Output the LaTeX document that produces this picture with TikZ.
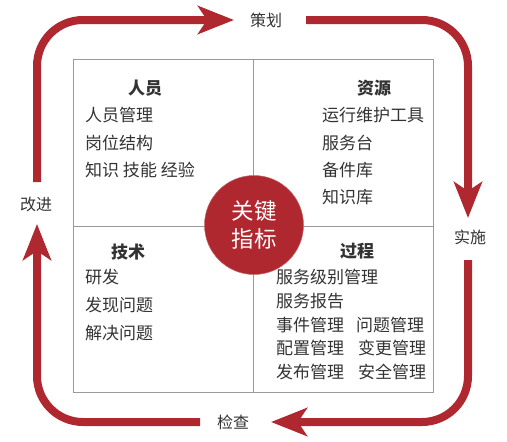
\documentclass[tikz,border=0pt]{standalone}
\usepackage{fontspec}
\setmainfont{Noto Sans CJK SC}
\usetikzlibrary{arrows.meta}
\definecolor{cyred}{HTML}{B0282F}
\definecolor{txt}{HTML}{333333}
\definecolor{gridc}{HTML}{9A9A9A}
\begin{document}
\begin{tikzpicture}[x=1pt,y=-1pt,
  cyc/.style={draw=cyred,line width=8pt,rounded corners=46pt,
    -{Stealth[length=36pt,width=28pt,inset=9pt]}},
  lbl/.style={text=txt,font=\fontsize{16}{16}\selectfont,inner sep=0pt},
  ttl/.style={text=txt,font=\fontsize{17}{17}\selectfont\bfseries,inner sep=0pt},
  itm/.style={text=txt,font=\fontsize{17}{17}\selectfont,inner sep=0pt,anchor=west},
  gridline/.style={draw=gridc,line width=0.8pt}]
\useasboundingbox (0,0) rectangle (507,442);
% frame
\node[gridline,minimum width=360pt,minimum height=333pt,inner sep=0pt] (frame) at (253,225.5) {};
\coordinate (mt) at (253,59);
\coordinate (mb) at (253,392);
\coordinate (ml) at (73,226);
\coordinate (mr) at (433,226);
\draw[gridline] (mt) -- (mb);
\draw[gridline] (ml) -- (mr);
% center circle
\node[circle,fill=cyred,draw=cyred!70!white,line width=0.5pt,minimum size=99pt,inner sep=0pt,
  text=white,align=center,font=\fontsize{22.5}{28}\selectfont] (kpi) at (254,225) {关键\\指标};
% cycle labels
\node[lbl] (plan) at (266,20) {策划};
\node[lbl] (do) at (470,237) {实施};
\node[lbl] (check) at (233,422) {检查};
\node[lbl] (act) at (36,204) {改进};
% cycle arrows
\coordinate (a1s) at (37,182);
\coordinate (a1c) at (37,20);
\coordinate (a1e) at (234,20);
\coordinate (a2s) at (306,20);
\coordinate (a2c) at (468,20);
\coordinate (a2e) at (468,218);
\coordinate (a3s) at (468,260);
\coordinate (a3c) at (468,422);
\coordinate (a3e) at (271,422);
\coordinate (a4s) at (200,422);
\coordinate (a4c) at (37,422);
\coordinate (a4e) at (37,224);
\draw[cyc] (a1s) -- (a1c) -- (a1e);
\draw[cyc] (a2s) -- (a2c) -- (a2e);
\draw[cyc] (a3s) -- (a3c) -- (a3e);
\draw[cyc] (a4s) -- (a4c) -- (a4e);
% quadrant: people
\node[ttl] (t1) at (145,88) {人员};
\node[itm] (p1) at (85,115) {人员管理};
\node[itm] (p2) at (85,143) {岗位结构};
\node[itm] (p3) at (85,170) {知识 技能 经验};
% quadrant: resources
\node[ttl] (t2) at (374,88) {资源};
\node[itm] (r1) at (322,115) {运行维护工具};
\node[itm] (r2) at (322,143) {服务台};
\node[itm] (r3) at (322,170) {备件库};
\node[itm] (r4) at (322,197) {知识库};
% quadrant: technology
\node[ttl] (t3) at (128,252) {技术};
\node[itm] (k1) at (85,277) {研发};
\node[itm] (k2) at (85,305) {发现问题};
\node[itm] (k3) at (85,333) {解决问题};
% quadrant: process
\node[ttl] (t4) at (357,251) {过程};
\node[itm] (g1) at (276,277) {服务级别管理};
\node[itm] (g2) at (276,301) {服务报告};
\node[itm] (g3) at (276,325) {事件管理};
\node[itm] (g4) at (356,325) {问题管理};
\node[itm] (g5) at (276,348) {配置管理};
\node[itm] (g6) at (358,348) {变更管理};
\node[itm] (g7) at (276,372) {发布管理};
\node[itm] (g8) at (358,372) {安全管理};
\end{tikzpicture}
\end{document}
